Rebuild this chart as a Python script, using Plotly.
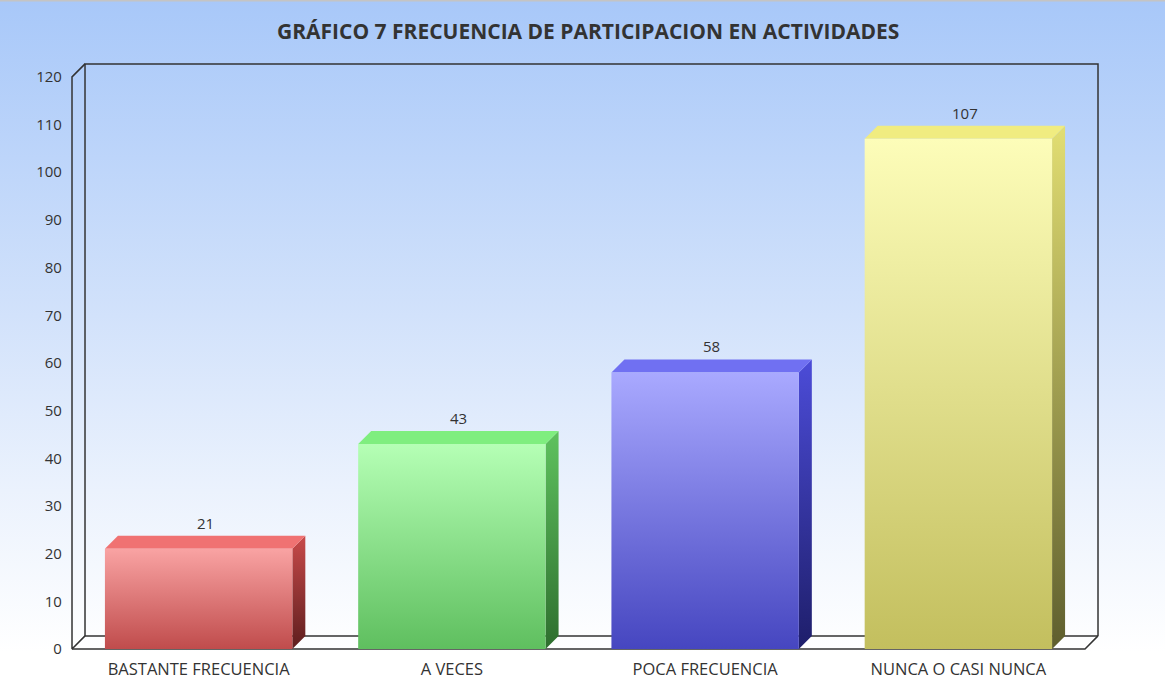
import plotly.graph_objects as go

# ---------------- data ----------------
categories = ["BASTANTE FRECUENCIA", "A VECES", "POCA FRECUENCIA", "NUNCA O CASI NUNCA"]
values = [21, 43, 58, 107]
y_ticks = list(range(0, 121, 10))
title_text = "GRÁFICO 7 FRECUENCIA DE PARTICIPACION EN ACTIVIDADES"

# ---------------- styles ----------------
front_top = ["#f9a3a3", "#b5ffb5", "#a9a9ff", "#fdfdb9"]
front_bottom = ["#c04c4c", "#5fbf5f", "#4646c0", "#c3bf5e"]
top_face = ["#f07272", "#7fee7f", "#7070f2", "#f0ec80"]
side_top = ["#c84a4a", "#5fc25f", "#4c4cd8", "#e2de72"]
side_bottom = ["#5e1e1e", "#2e6e2e", "#1e1e6a", "#5e5e2e"]

YS = 708 / 700     # vertical compensation for the capture
W, H = 1165, 708
PX_X = 253.25      # pixels per category
PX_Y = 4.76 * YS   # pixels per value unit
X0 = 72            # pixel of x=-0.5
Y0 = 648 * YS      # pixel of y=0
dx = 13 / PX_X
dy = 13 * YS / PX_Y
half = 0.37
pad_x, pad_y = 0.02, 0.4
xr = [-0.5 - pad_x, len(categories) - 0.5 + dx + pad_x]
ymax = max(y_ticks)
yr = [-pad_y, ymax + dy + pad_y]
left_px = X0 - pad_x * PX_X
right_px = X0 + (xr[1] + 0.5) * PX_X
bottom_px = Y0 + pad_y * PX_Y
top_px = Y0 - yr[1] * PX_Y

FONT = "Open Sans"
TXT = "#333333"

fig = go.Figure()

# background gradient on a full-page axis
fig.add_trace(go.Scatter(
    x=[0, 1, 1, 0, 0], y=[0, 0, 1, 1, 0], xaxis="x", yaxis="y",
    mode="lines", line=dict(width=0), fill="toself",
    fillgradient=dict(type="vertical",
                      colorscale=[[0, "#ffffff"], [0.07, "#ffffff"], [0.3, "#ebf2fd"],
                                  [0.55, "#d2e2fb"], [1, "#a8c8f9"]]),
    hoverinfo="skip", showlegend=False))

LC = "#333333"
xl = -0.5
xrgt = len(categories) - 0.5


def line(xs, ys):
    fig.add_trace(go.Scatter(x=xs, y=ys, xaxis="x2", yaxis="y2", mode="lines",
                             line=dict(color=LC, width=1.5), hoverinfo="skip",
                             showlegend=False))


# back wall frame
line([xl + dx, xl + dx, xrgt + dx, xrgt + dx], [dy, ymax + dy, ymax + dy, dy])
line([xl + dx, xrgt + dx], [dy, dy])
# front edges
line([xl + dx, xl, xl, xl + dx], [ymax + dy, ymax, 0, dy])
line([xl, xrgt, xrgt + dx], [0, 0, dy])

# bars
for i, v in enumerate(values):
    x0, x1 = i - half, i + half
    # side
    fig.add_trace(go.Scatter(
        x=[x1, x1 + dx, x1 + dx, x1, x1], y=[0, dy, v + dy, v, 0],
        xaxis="x2", yaxis="y2", mode="lines", line=dict(width=0), fill="toself",
        fillgradient=dict(type="vertical",
                          colorscale=[[0, side_bottom[i]], [1, side_top[i]]]),
        hoverinfo="skip", showlegend=False))
    # top
    fig.add_trace(go.Scatter(
        x=[x0, x1, x1 + dx, x0 + dx, x0], y=[v, v, v + dy, v + dy, v],
        xaxis="x2", yaxis="y2", mode="lines", line=dict(width=0), fill="toself",
        fillcolor=top_face[i], hoverinfo="skip", showlegend=False))
    # front
    fig.add_trace(go.Scatter(
        x=[x0, x1, x1, x0, x0], y=[0, 0, v, v, 0],
        xaxis="x2", yaxis="y2", mode="lines", line=dict(width=0), fill="toself",
        fillgradient=dict(type="vertical",
                          colorscale=[[0, front_bottom[i]], [1, front_top[i]]]),
        hoverinfo="skip", showlegend=False))

annotations = []
for i, v in enumerate(values):
    annotations.append(dict(x=i + dx / 2, y=v + dy, xref="x2", yref="y2", text=str(v),
                            showarrow=False, yanchor="bottom", yshift=1,
                            font=dict(family=FONT, size=15, color=TXT)))
annotations.append(dict(x=588 / W, y=1 - 31 * YS / H, xref="paper", yref="paper",
                        text="<b>" + title_text + "</b>", showarrow=False,
                        xanchor="center", yanchor="middle",
                        font=dict(family=FONT, size=21, color=TXT)))

fig.update_layout(
    width=W, height=H,
    margin=dict(l=0, r=0, t=0, b=0),
    paper_bgcolor="white", plot_bgcolor="rgba(0,0,0,0)",
    showlegend=False,
    xaxis=dict(domain=[0, 1], range=[0, 1], visible=False, fixedrange=True),
    yaxis=dict(domain=[0, 1], range=[0, 1], visible=False, fixedrange=True),
    xaxis2=dict(domain=[left_px / W, right_px / W], range=xr, anchor="y2",
                tickvals=list(range(len(categories))), ticktext=categories,
                showgrid=False, zeroline=False, showline=False, ticks="",
                ticklabelstandoff=7,
                tickfont=dict(family=FONT, size=16.5, color=TXT)),
    yaxis2=dict(domain=[1 - bottom_px / H, 1 - top_px / H], range=yr, anchor="x2",
                tickvals=y_ticks, showgrid=False, zeroline=False, showline=False,
                ticks="", ticklabelstandoff=4,
                tickfont=dict(family=FONT, size=15, color=TXT)),
    annotations=annotations,
    shapes=[dict(type="line", xref="paper", yref="paper", x0=0, x1=1, y0=1, y1=1,
                 line=dict(color="#c4c4c4", width=3))],
)

fig.write_html(
    "out.html",
    config={"displayModeBar": False},
    post_script=("document.documentElement.style.margin='0';"
                 "document.body.style.margin='0';document.body.style.padding='0';"),
)
